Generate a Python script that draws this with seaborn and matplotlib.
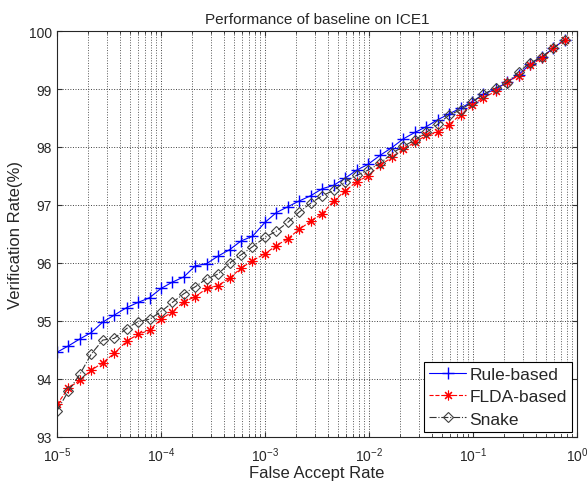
import numpy as np
import pandas as pd
import matplotlib
matplotlib.use('Agg')
import matplotlib.pyplot as plt
import seaborn as sns

# False accept rate exponents (log10) of the sampled operating points
far_exp = [-5.00, -4.89, -4.78, -4.67, -4.56, -4.45, -4.33, -4.22, -4.11, -4.00,
           -3.89, -3.78, -3.67, -3.56, -3.45, -3.34, -3.23, -3.12, -3.00, -2.89,
           -2.78, -2.67, -2.56, -2.45, -2.34, -2.23, -2.12, -2.01, -1.89, -1.78,
           -1.67, -1.56, -1.45, -1.34, -1.23, -1.12, -1.01, -0.90, -0.78, -0.67,
           -0.56, -0.45, -0.34, -0.23, -0.12]

rule_based = [94.46, 94.57, 94.69, 94.80, 94.98, 95.10, 95.23, 95.32, 95.40, 95.56,
              95.67, 95.76, 95.95, 95.99, 96.12, 96.23, 96.38, 96.46, 96.70, 96.87,
              96.97, 97.07, 97.16, 97.28, 97.34, 97.46, 97.60, 97.70, 97.86, 97.99,
              98.14, 98.25, 98.35, 98.47, 98.57, 98.67, 98.78, 98.91, 99.00, 99.12,
              99.25, 99.43, 99.55, 99.70, 99.85]

flda_based = [93.56, 93.84, 93.98, 94.15, 94.28, 94.44, 94.65, 94.77, 94.84, 95.03,
              95.16, 95.33, 95.42, 95.56, 95.61, 95.74, 95.91, 96.04, 96.16, 96.30,
              96.42, 96.58, 96.72, 96.85, 97.07, 97.24, 97.40, 97.50, 97.69, 97.82,
              97.96, 98.08, 98.20, 98.25, 98.38, 98.56, 98.72, 98.85, 98.96, 99.12,
              99.23, 99.41, 99.53, 99.70, 99.85]

snake = [93.45, 93.79, 94.08, 94.43, 94.67, 94.70, 94.87, 94.99, 95.03, 95.16,
         95.32, 95.47, 95.59, 95.73, 95.81, 96.00, 96.14, 96.28, 96.44, 96.55,
         96.70, 96.88, 97.03, 97.16, 97.25, 97.40, 97.51, 97.60, 97.72, 97.89,
         98.01, 98.12, 98.25, 98.39, 98.55, 98.64, 98.77, 98.91, 99.02, 99.11,
         99.30, 99.45, 99.55, 99.70, 99.85]

far = [10 ** e for e in far_exp]

sns.set_style('ticks')
plt.rcParams['font.family'] = ['Liberation Sans', 'DejaVu Sans']
plt.rcParams['mathtext.default'] = 'regular'
plt.rcParams['xtick.direction'] = 'in'
plt.rcParams['ytick.direction'] = 'in'

fig = plt.figure(figsize=(5.87, 4.85), dpi=100)
ax = fig.add_axes([0.097, 0.097, 0.886, 0.837])

# seaborn paints marker edges white by default, so set them explicitly
sns.lineplot(x=far, y=rule_based, ax=ax, color='blue', marker='+', markersize=9,
             markeredgecolor='blue', markeredgewidth=1.0, linewidth=0.8,
             label='Rule-based')
# matlab-style asterisk: 8 spokes
sns.lineplot(x=far, y=flda_based, ax=ax, color='red', marker=(8, 2, 0), markersize=7,
             markeredgecolor='red', markeredgewidth=0.8,
             linewidth=0.8, linestyle='--', label='FLDA-based')
sns.lineplot(x=far, y=snake, ax=ax, color='0.2', marker='D', markersize=5,
             markerfacecolor='none', markeredgecolor='0.25', markeredgewidth=0.8,
             linewidth=0.8, linestyle='-.', label='Snake')

ax.set_xscale('log')
ax.set_xlim(1e-5, 1)
ax.set_ylim(93, 100)
ax.set_yticks(range(93, 101))

ax.grid(True, which='major', linestyle=':', color='0.25', linewidth=0.7)
ax.grid(True, which='minor', axis='x', linestyle=':', color='0.35', linewidth=0.7)
ax.tick_params(which='both', top=True, right=True, labelsize=10, color='0.2')
ax.tick_params(axis='x', pad=6)
for s in ax.spines.values():
    s.set_linewidth(0.8)

ax.set_title('Performance of baseline on ICE1', fontsize=11)
ax.set_xlabel('False Accept Rate', fontsize=12, labelpad=1)
ax.set_ylabel('Verification Rate(%)', fontsize=12)

leg = ax.legend(loc='lower right', borderaxespad=0.3, fontsize=12.5, fancybox=False,
                framealpha=1, edgecolor='black', handlelength=2.1,
                handletextpad=0.2, borderpad=0.3, labelspacing=0.4)
leg.get_frame().set_linewidth(0.8)

fig.savefig('out.png', dpi=100)
